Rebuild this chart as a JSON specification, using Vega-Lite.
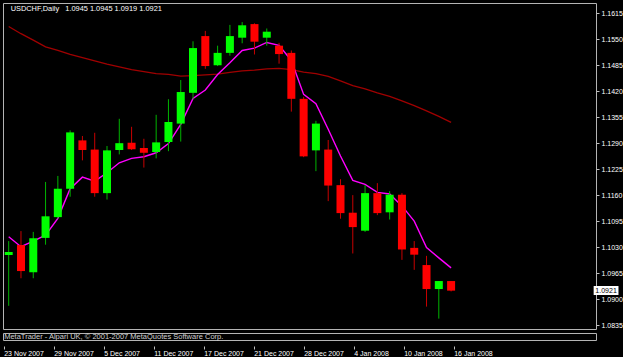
{
  "$schema": "https://vega.github.io/schema/vega-lite/v6.json",
  "background": "#000000",
  "padding": {"left": 2, "top": 2, "right": 0, "bottom": 0},
  "spacing": 2,
  "config": {
    "view": {"stroke": "#b4b4b4", "strokeWidth": 1, "fill": "#000000"},
    "font": "Liberation Sans",
    "axis": {"grid": false, "domain": false, "tickColor": "#c0c0c0", "tickSize": 3, "labelColor": "#ffffff", "labelFontSize": 7, "labelFont": "Liberation Sans", "title": null, "labelOverlap": false, "labelFlush": false, "labelBound": false}
  },
  "datasets": {
    "bars": [
      {"i": 0, "date": "2007-11-23", "o": 1.1010, "h": 1.1045, "l": 1.0883, "c": 1.1018, "f": 1.1056, "s": 1.1582},
      {"i": 1, "date": "2007-11-26", "o": 1.1035, "h": 1.1070, "l": 1.0952, "c": 1.0970, "f": 1.1031, "s": 1.1564},
      {"i": 2, "date": "2007-11-27", "o": 1.0967, "h": 1.1068, "l": 1.0952, "c": 1.1052, "f": 1.1045, "s": 1.1548},
      {"i": 3, "date": "2007-11-28", "o": 1.1053, "h": 1.1193, "l": 1.1036, "c": 1.1107, "f": 1.1060, "s": 1.1531},
      {"i": 4, "date": "2007-11-29", "o": 1.1105, "h": 1.1208, "l": 1.1102, "c": 1.1176, "f": 1.1102, "s": 1.1522},
      {"i": 5, "date": "2007-11-30", "o": 1.1176, "h": 1.1322, "l": 1.1156, "c": 1.1317, "f": 1.1176, "s": 1.1512},
      {"i": 6, "date": "2007-12-03", "o": 1.1297, "h": 1.1308, "l": 1.1247, "c": 1.1273, "f": 1.1205, "s": 1.1504},
      {"i": 7, "date": "2007-12-04", "o": 1.1274, "h": 1.1316, "l": 1.1156, "c": 1.1165, "f": 1.1195, "s": 1.1496},
      {"i": 8, "date": "2007-12-05", "o": 1.1165, "h": 1.1283, "l": 1.1149, "c": 1.1272, "f": 1.1216, "s": 1.1488},
      {"i": 9, "date": "2007-12-06", "o": 1.1273, "h": 1.1351, "l": 1.1262, "c": 1.1290, "f": 1.1241, "s": 1.1481},
      {"i": 10, "date": "2007-12-07", "o": 1.1291, "h": 1.1331, "l": 1.1273, "c": 1.1275, "f": 1.1252, "s": 1.1474},
      {"i": 11, "date": "2007-12-10", "o": 1.1278, "h": 1.1301, "l": 1.1229, "c": 1.1266, "f": 1.1256, "s": 1.1469},
      {"i": 12, "date": "2007-12-11", "o": 1.1268, "h": 1.1361, "l": 1.1252, "c": 1.1292, "f": 1.1266, "s": 1.1464},
      {"i": 13, "date": "2007-12-12", "o": 1.1293, "h": 1.1400, "l": 1.1270, "c": 1.1343, "f": 1.1289, "s": 1.1462},
      {"i": 14, "date": "2007-12-13", "o": 1.1339, "h": 1.1448, "l": 1.1294, "c": 1.1418, "f": 1.1337, "s": 1.1458},
      {"i": 15, "date": "2007-12-14", "o": 1.1416, "h": 1.1545, "l": 1.1400, "c": 1.1528, "f": 1.1402, "s": 1.1459},
      {"i": 16, "date": "2007-12-17", "o": 1.1558, "h": 1.1571, "l": 1.1476, "c": 1.1483, "f": 1.1423, "s": 1.1461},
      {"i": 17, "date": "2007-12-18", "o": 1.1485, "h": 1.1534, "l": 1.1483, "c": 1.1516, "f": 1.1462, "s": 1.1463},
      {"i": 18, "date": "2007-12-19", "o": 1.1516, "h": 1.1586, "l": 1.1509, "c": 1.1558, "f": 1.1491, "s": 1.1467},
      {"i": 19, "date": "2007-12-20", "o": 1.1554, "h": 1.1593, "l": 1.1540, "c": 1.1585, "f": 1.1522, "s": 1.1471},
      {"i": 20, "date": "2007-12-21", "o": 1.1588, "h": 1.1590, "l": 1.1512, "c": 1.1544, "f": 1.1528, "s": 1.1473},
      {"i": 21, "date": "2007-12-24", "o": 1.1554, "h": 1.1577, "l": 1.1534, "c": 1.1569, "f": 1.1542, "s": 1.1476},
      {"i": 22, "date": "2007-12-26", "o": 1.1534, "h": 1.1541, "l": 1.1489, "c": 1.1513, "f": 1.1535, "s": 1.1477},
      {"i": 23, "date": "2007-12-27", "o": 1.1516, "h": 1.1522, "l": 1.1369, "c": 1.1401, "f": 1.1497, "s": 1.1474},
      {"i": 24, "date": "2007-12-28", "o": 1.1401, "h": 1.1406, "l": 1.1255, "c": 1.1257, "f": 1.1412, "s": 1.1468},
      {"i": 25, "date": "2007-12-31", "o": 1.1272, "h": 1.1346, "l": 1.1220, "c": 1.1339, "f": 1.1389, "s": 1.1464},
      {"i": 26, "date": "2008-01-02", "o": 1.1274, "h": 1.1298, "l": 1.1145, "c": 1.1184, "f": 1.1325, "s": 1.1457},
      {"i": 27, "date": "2008-01-03", "o": 1.1185, "h": 1.1200, "l": 1.1101, "c": 1.1115, "f": 1.1258, "s": 1.1446},
      {"i": 28, "date": "2008-01-04", "o": 1.1116, "h": 1.1160, "l": 1.1014, "c": 1.1080, "f": 1.1197, "s": 1.1434},
      {"i": 29, "date": "2008-01-07", "o": 1.1071, "h": 1.1185, "l": 1.1068, "c": 1.1165, "f": 1.1187, "s": 1.1426},
      {"i": 30, "date": "2008-01-08", "o": 1.1165, "h": 1.1190, "l": 1.1110, "c": 1.1115, "f": 1.1167, "s": 1.1416},
      {"i": 31, "date": "2008-01-09", "o": 1.1117, "h": 1.1170, "l": 1.1099, "c": 1.1161, "f": 1.1163, "s": 1.1407},
      {"i": 32, "date": "2008-01-10", "o": 1.1161, "h": 1.1165, "l": 1.0998, "c": 1.1024, "f": 1.1133, "s": 1.1396},
      {"i": 33, "date": "2008-01-11", "o": 1.1028, "h": 1.1045, "l": 1.0973, "c": 1.1011, "f": 1.1095, "s": 1.1384},
      {"i": 34, "date": "2008-01-14", "o": 1.0985, "h": 1.1008, "l": 1.0881, "c": 1.0925, "f": 1.1029, "s": 1.1371},
      {"i": 35, "date": "2008-01-15", "o": 1.0925, "h": 1.0945, "l": 1.0851, "c": 1.0945, "f": 1.1003, "s": 1.1357},
      {"i": 36, "date": "2008-01-16", "o": 1.0945, "h": 1.0945, "l": 1.0919, "c": 1.0921, "f": 1.0978, "s": 1.1342}
    ]
  },
  "vconcat": [
    {
      "width": 593,
      "height": 326,
      "data": {"name": "bars"},
      "layer": [
        {
          "mark": {"type": "line", "color": "#a00000", "strokeWidth": 1.3, "clip": true},
          "encoding": {
            "x": {"field": "i", "type": "quantitative", "scale": {"domain": [-0.056, 47.384], "nice": false, "zero": false}, "axis": null},
            "y": {"field": "s", "type": "quantitative", "scale": {"domain": [1.0825, 1.16408], "nice": false, "zero": false},
              "axis": {"orient": "right", "values": [1.0835, 1.0900, 1.0965, 1.1030, 1.1095, 1.1160, 1.1225, 1.1290, 1.1355, 1.1420, 1.1485, 1.1550, 1.1615], "tickCount": 20, "format": ".4f", "labelPadding": 2, "labelBaseline": "middle", "labelOverlap": false, "labelFlush": false, "title": null}}
          }
        },
        {
          "mark": {"type": "line", "color": "#ff00ff", "strokeWidth": 1.4, "clip": true},
          "encoding": {
            "x": {"field": "i", "type": "quantitative", "scale": {"domain": [-0.056, 47.384], "nice": false, "zero": false}, "axis": null},
            "y": {"field": "f", "type": "quantitative", "scale": {"domain": [1.0825, 1.16408], "nice": false, "zero": false},
              "axis": {"orient": "right", "values": [1.0835, 1.0900, 1.0965, 1.1030, 1.1095, 1.1160, 1.1225, 1.1290, 1.1355, 1.1420, 1.1485, 1.1550, 1.1615], "tickCount": 20, "format": ".4f", "labelPadding": 2, "labelBaseline": "middle", "labelOverlap": false, "labelFlush": false, "title": null}}
          }
        },
        {
          "mark": {"type": "rule", "strokeWidth": 1, "clip": true},
          "encoding": {
            "x": {"field": "i", "type": "quantitative", "scale": {"domain": [-0.056, 47.384], "nice": false, "zero": false}, "axis": null},
            "y": {"field": "l", "type": "quantitative", "scale": {"domain": [1.0825, 1.16408], "nice": false, "zero": false},
              "axis": {"orient": "right", "values": [1.0835, 1.0900, 1.0965, 1.1030, 1.1095, 1.1160, 1.1225, 1.1290, 1.1355, 1.1420, 1.1485, 1.1550, 1.1615], "tickCount": 20, "format": ".4f", "labelPadding": 2, "labelBaseline": "middle", "labelOverlap": false, "labelFlush": false, "title": null}},
            "y2": {"field": "h"},
            "color": {"condition": {"test": "datum.c >= datum.o", "value": "#00b400"}, "value": "#c80000"}
          }
        },
        {
          "mark": {"type": "bar", "width": 8, "clip": true},
          "encoding": {
            "x": {"field": "i", "type": "quantitative", "scale": {"domain": [-0.056, 47.384], "nice": false, "zero": false}, "axis": null},
            "y": {"field": "o", "type": "quantitative", "scale": {"domain": [1.0825, 1.16408], "nice": false, "zero": false},
              "axis": {"orient": "right", "values": [1.0835, 1.0900, 1.0965, 1.1030, 1.1095, 1.1160, 1.1225, 1.1290, 1.1355, 1.1420, 1.1485, 1.1550, 1.1615], "tickCount": 20, "format": ".4f", "labelPadding": 2, "labelBaseline": "middle", "labelOverlap": false, "labelFlush": false, "title": null}},
            "y2": {"field": "c"},
            "color": {"condition": {"test": "datum.c >= datum.o", "value": "#00ff00"}, "value": "#ff0000"}
          }
        },
        {
          "data": {"values": [{"t": "USDCHF,Daily\u00a0\u00a0 1.0945 1.0945 1.0919 1.0921"}]},
          "mark": {"type": "text", "align": "left", "baseline": "middle", "color": "#ffffff", "fontSize": 7.4, "clip": false},
          "encoding": {
            "x": {"datum": 0.16, "type": "quantitative"},
            "y": {"datum": 1.1626, "type": "quantitative"},
            "text": {"field": "t", "type": "nominal"}
          }
        },
        {
          "data": {"values": [{"label": "1.0921", "p": 1.0921}]},
          "mark": {"type": "rect", "color": "#ffffff", "clip": false},
          "encoding": {
            "x": {"datum": 47.6, "type": "quantitative"},
            "x2": {"datum": 49.62},
            "y": {"datum": 1.09326, "type": "quantitative"},
            "y2": {"datum": 1.09101}
          }
        },
        {
          "data": {"values": [{"label": "1.0921", "p": 1.0921}]},
          "mark": {"type": "text", "align": "center", "baseline": "middle", "color": "#000000", "fontSize": 7, "clip": false},
          "encoding": {
            "x": {"datum": 48.61, "type": "quantitative"},
            "y": {"field": "p", "type": "quantitative"},
            "text": {"field": "label"}
          }
        }
      ]
    },
    {
      "width": 593,
      "height": 7,
      "data": {"values": [{"i": 0, "txt": "MetaTrader - Alpari UK, © 2001-2007 MetaQuotes Software Corp."}]},
      "mark": {"type": "text", "align": "left", "baseline": "middle", "color": "#d0d0d0", "fontSize": 7.5, "dy": 0.5, "dx": 0.5},
      "encoding": {
        "x": {"field": "i", "type": "quantitative", "scale": {"domain": [-0.056, 47.384], "nice": false, "zero": false},
          "axis": {"orient": "bottom", "values": [0, 4, 8, 12, 16, 20, 24, 28, 32, 36], "tickCount": 20, "labelExpr": "['23 Nov 2007','29 Nov 2007','5 Dec 2007','11 Dec 2007','17 Dec 2007','21 Dec 2007','28 Dec 2007','4 Jan 2008','10 Jan 2008','16 Jan 2008'][round(datum.value/4)]", "offset": 6, "labelAlign": "left", "labelBaseline": "alphabetic", "labelPadding": 6.5, "labelOverlap": false, "title": null}},
        "text": {"field": "txt"}
      }
    }
  ]
}
